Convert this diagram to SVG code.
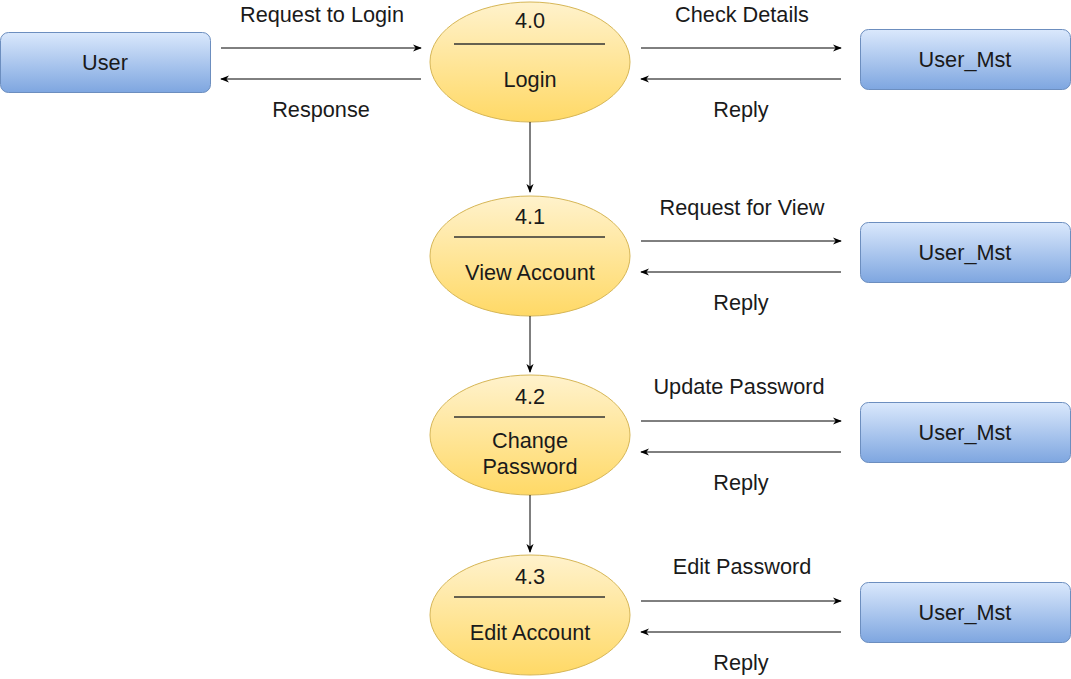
<svg xmlns="http://www.w3.org/2000/svg" width="1071" height="679" viewBox="0 0 1071 679">
<defs>
<linearGradient id="gb" x1="0" y1="0" x2="0" y2="1"><stop offset="0" stop-color="#dae8fc"/><stop offset="1" stop-color="#7ea6e0"/></linearGradient>
<linearGradient id="gy" x1="0" y1="0" x2="0" y2="1"><stop offset="0" stop-color="#fff2cc"/><stop offset="1" stop-color="#ffd966"/></linearGradient>
<marker id="ah" viewBox="0 0 10 10" refX="9" refY="5" markerWidth="9" markerHeight="9" orient="auto" markerUnits="userSpaceOnUse"><path d="M0,1 L10,5 L0,9 L3,5 Z" fill="#000"/></marker>
<style>
text{font-family:"Liberation Sans",Arial,sans-serif;font-size:21.7px;fill:#1a1a1a;text-anchor:middle;dominant-baseline:central}
.box{fill:url(#gb);stroke:#6c8ebf;stroke-width:1}
.proc{fill:url(#gy);stroke:#d6b656;stroke-width:1}
.sep{stroke:#333;stroke-width:1.3}
.c line{stroke:#000;stroke-width:1;marker-end:url(#ah)}
</style>
</defs>
<rect width="1071" height="679" fill="#fff"/>
<g id="user"><rect class="box" x="0.5" y="32.5" width="210" height="60" rx="8"/><text x="105" y="62">User</text></g>
<g id="p40"><ellipse class="proc" cx="530" cy="62" rx="100" ry="60"/><line class="sep" x1="454" y1="44" x2="605" y2="44"/><text x="530" y="20">4.0</text><text x="530" y="79">Login</text></g>
<g id="p41"><ellipse class="proc" cx="530" cy="256" rx="100" ry="60"/><line class="sep" x1="454" y1="237" x2="605" y2="237"/><text x="530" y="216">4.1</text><text x="530" y="272">View Account</text></g>
<g id="p42"><ellipse class="proc" cx="530" cy="435" rx="100" ry="60"/><line class="sep" x1="454" y1="417" x2="605" y2="417"/><text x="530" y="396">4.2</text><text x="530" y="440">Change</text><text x="530" y="466">Password</text></g>
<g id="p43"><ellipse class="proc" cx="530" cy="615" rx="100" ry="60"/><line class="sep" x1="454" y1="597" x2="605" y2="597"/><text x="530" y="576">4.3</text><text x="530" y="632">Edit Account</text></g>
<g id="m1"><rect class="box" x="860.5" y="29.5" width="210" height="60" rx="8"/><text x="965" y="59">User_Mst</text></g>
<g id="m2"><rect class="box" x="860.5" y="222.5" width="210" height="60" rx="8"/><text x="965" y="252">User_Mst</text></g>
<g id="m3"><rect class="box" x="860.5" y="402.5" width="210" height="60" rx="8"/><text x="965" y="432">User_Mst</text></g>
<g id="m4"><rect class="box" x="860.5" y="582.5" width="210" height="60" rx="8"/><text x="965" y="612">User_Mst</text></g>
<g class="c" id="connectors">
<line x1="221" y1="48" x2="421" y2="48"/>
<line x1="421" y1="79" x2="221" y2="79"/>
<line x1="641" y1="48" x2="841" y2="48"/>
<line x1="841" y1="79" x2="641" y2="79"/>
<line x1="641" y1="241" x2="841" y2="241"/>
<line x1="841" y1="272" x2="641" y2="272"/>
<line x1="641" y1="421" x2="841" y2="421"/>
<line x1="841" y1="452" x2="641" y2="452"/>
<line x1="641" y1="601" x2="841" y2="601"/>
<line x1="841" y1="632" x2="641" y2="632"/>
<line x1="530" y1="122" x2="530" y2="192"/>
<line x1="530" y1="316" x2="530" y2="372"/>
<line x1="530" y1="495" x2="530" y2="552"/>
</g>
<g id="labels">
<text x="322" y="14">Request to Login</text>
<text x="321" y="109">Response</text>
<text x="742" y="14">Check Details</text>
<text x="741" y="109">Reply</text>
<text x="742" y="207">Request for View</text>
<text x="741" y="302">Reply</text>
<text x="739" y="386">Update Password</text>
<text x="741" y="482">Reply</text>
<text x="742" y="566">Edit Password</text>
<text x="741" y="662">Reply</text>
</g>
</svg>
